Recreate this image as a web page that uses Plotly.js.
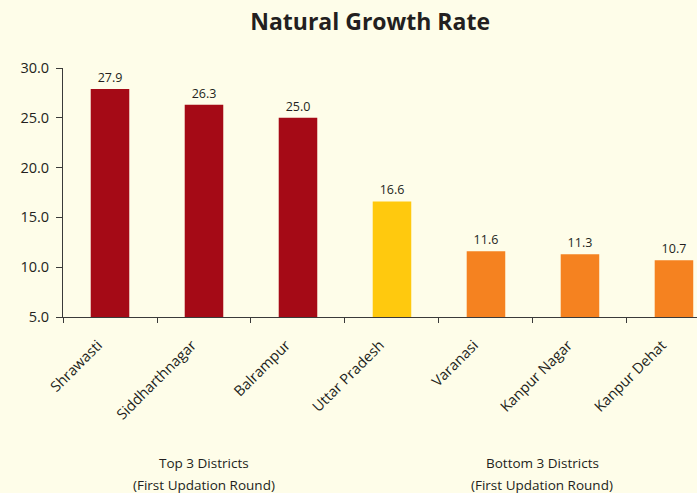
<!DOCTYPE html>
<html>
<head>
<meta charset="utf-8">
<script src="https://cdn.plot.ly/plotly-3.0.1.min.js"></script>
<style>html,body{margin:0;padding:0;background:#FEFDE9;}</style>
</head>
<body>
<div id="chart" style="width:697px;height:493px;"></div>
<script>
const categories = ["Shrawasti", "Siddharthnagar", "Balrampur", "Uttar Pradesh", "Varanasi", "Kanpur Nagar", "Kanpur Dehat"];
const values = [27.9, 26.3, 25.0, 16.6, 11.6, 11.3, 10.7];
const barColors = ["#A50A16", "#A50A16", "#A50A16", "#FFC90E", "#F58220", "#F58220", "#F58220"];
const yTicks = [5, 10, 15, 20, 25, 30];
const groupTitles = ["Top 3 Districts", "Bottom 3 Districts"];
const groupSubtitles = ["(First Updation Round)", "(First Updation Round)"];
const groupCenters = [1, 4.6];

const font = "Open Sans, Lato, sans-serif";
const trace = {
  type: "bar",
  x: categories,
  y: values,
  marker: {color: barColors},
  width: 0.41,
  text: values.map(v => v.toFixed(1)),
  textposition: "outside",
  textfont: {family: font, size: 12.5, color: "#231F20"},
  cliponaxis: false,
  hoverinfo: "none"
};
const plotH = 493 - 68 - 176;
const pyToPaper = py => (493 - 176 - py) / plotH;
const annotations = [];
groupCenters.forEach((c, i) => {
  annotations.push({text: groupTitles[i], x: c, xref: "x", y: pyToPaper(463), yref: "paper", yanchor: "middle",
    showarrow: false, font: {family: font, size: 13.5, color: "#231F20"}});
  annotations.push({text: groupSubtitles[i], x: c, xref: "x", y: pyToPaper(485), yref: "paper", yanchor: "middle",
    showarrow: false, font: {family: font, size: 13.5, color: "#231F20"}});
});
const layout = {
  width: 697, height: 493,
  paper_bgcolor: "#FEFDE9", plot_bgcolor: "#FEFDE9",
  margin: {l: 63, r: 0, t: 68, b: 176},
  title: {text: "<b>Natural Growth Rate</b>", font: {family: font, size: 23, color: "#231F20"}, x: 0.531, xanchor: "center", y: 0.955, yanchor: "middle"},
  showlegend: false,
  xaxis: {
    range: [-0.5, 6.245],
    showline: true, linecolor: "#3a3a3a", linewidth: 1,
    ticks: "outside", tickson: "boundaries", ticklen: 5, tickcolor: "#3a3a3a",
    tickangle: -45, ticklabelstandoff: 13, ticklabelshift: -12,
    tickfont: {family: font, size: 14.5, color: "#231F20"},
    showgrid: false, zeroline: false, fixedrange: true
  },
  yaxis: {
    range: [5, 30],
    tickvals: yTicks, ticktext: yTicks.map(v => v.toFixed(1)),
    showline: true, linecolor: "#3a3a3a", linewidth: 1,
    ticks: "outside", ticklen: 6, tickcolor: "#3a3a3a", ticklabelstandoff: 4,
    tickfont: {family: font, size: 14.5, color: "#231F20"},
    showgrid: false, zeroline: false, fixedrange: true
  },
  annotations: annotations
};
Plotly.newPlot("chart", [trace], layout, {displayModeBar: false, staticPlot: true});
</script>
</body>
</html>
